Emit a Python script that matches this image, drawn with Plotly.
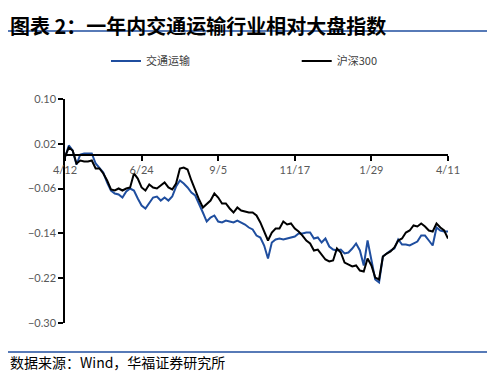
import plotly.graph_objects as go

tick_labels = ["4/12", "6/24", "9/5", "11/17", "1/29", "4/11"]
tick_index = [0, 20, 40, 60, 80, 100]

transport = [
    -0.0045, 0.0170, 0.0080, -0.0170, 0.0009, 0.0027, 0.0027, 0.0027, -0.0152, -0.0241,
    -0.0313, -0.0491, -0.0634, -0.0688, -0.0705, -0.0759, -0.0652, -0.0598, -0.0634, -0.0777,
    -0.0902, -0.0955, -0.0866, -0.0759, -0.0741, -0.0813, -0.0759, -0.0813, -0.0741, -0.0563,
    -0.0455, -0.0509, -0.0580, -0.0670, -0.0723, -0.0866, -0.1027, -0.1188, -0.1116, -0.1080,
    -0.1188, -0.1205, -0.1170, -0.1188, -0.1205, -0.1170, -0.1205, -0.1241, -0.1295, -0.1330,
    -0.1438, -0.1473, -0.1616, -0.1848, -0.1563, -0.1509, -0.1491, -0.1509, -0.1491, -0.1473,
    -0.1455, -0.1402, -0.1402, -0.1384, -0.1384, -0.1491, -0.1473, -0.1563, -0.1491, -0.1634,
    -0.1688, -0.1705, -0.1688, -0.1759, -0.1741, -0.1670, -0.1580, -0.1705, -0.1973, -0.1527,
    -0.1848, -0.2223, -0.2277, -0.1813, -0.1759, -0.1705, -0.1670, -0.1509, -0.1598, -0.1598,
    -0.1616, -0.1580, -0.1545, -0.1438, -0.1438, -0.1527, -0.1616, -0.1295, -0.1348, -0.1366,
    -0.1366,
]

hs300 = [
    -0.0027, 0.0134, 0.0080, -0.0152, -0.0098, -0.0116, -0.0116, -0.0098, -0.0241, -0.0241,
    -0.0330, -0.0455, -0.0616, -0.0634, -0.0598, -0.0634, -0.0598, -0.0580, -0.0330, -0.0420,
    -0.0580, -0.0634, -0.0527, -0.0580, -0.0598, -0.0545, -0.0491, -0.0580, -0.0616, -0.0509,
    -0.0241, -0.0223, -0.0259, -0.0455, -0.0634, -0.0795, -0.0938, -0.0884, -0.0813, -0.0688,
    -0.0759, -0.0866, -0.0866, -0.0955, -0.1027, -0.0938, -0.0991, -0.1009, -0.1027, -0.1027,
    -0.1080, -0.1205, -0.1384, -0.1527, -0.1384, -0.1313, -0.1313, -0.1188, -0.1241, -0.1223,
    -0.1313, -0.1366, -0.1438, -0.1527, -0.1580, -0.1705, -0.1688, -0.1777, -0.1866, -0.1902,
    -0.1884, -0.1670, -0.1741, -0.1920, -0.1955, -0.1991, -0.1973, -0.2063, -0.2080, -0.1848,
    -0.1973, -0.2188, -0.2223, -0.1813, -0.1759, -0.1723, -0.1652, -0.1527, -0.1491, -0.1384,
    -0.1348, -0.1259, -0.1277, -0.1223, -0.1277, -0.1348, -0.1366, -0.1223, -0.1295, -0.1348,
    -0.1491,
]

y_ticks = [0.10, 0.02, -0.06, -0.14, -0.22, -0.30]

BLUE = "#1f4e9f"
x_idx = list(range(len(transport)))

fig = go.Figure()
fig.add_trace(go.Scatter(x=x_idx, y=transport, mode="lines", name="交通运输",
                         line=dict(color=BLUE, width=2), legend="legend"))
fig.add_trace(go.Scatter(x=x_idx, y=hs300, mode="lines", name="沪深300",
                         line=dict(color="#000000", width=2), legend="legend2"))

tick_font = dict(family="Lato, DejaVu Sans, sans-serif", size=11, color="#595959")
leg_font = dict(family="Noto Sans CJK SC, sans-serif", size=11, color="#404040")

fig.update_layout(
    width=487, height=367,
    margin=dict(l=57, r=47, t=91, b=52, autoexpand=False),
    paper_bgcolor="white", plot_bgcolor="white",
    showlegend=True,
    legend=dict(x=0.107, y=1.17, xanchor="left", yanchor="middle",
                font=leg_font, bgcolor="rgba(0,0,0,0)"),
    legend2=dict(x=0.605, y=1.17, xanchor="left", yanchor="middle",
                 font=leg_font, bgcolor="rgba(0,0,0,0)"),
    xaxis=dict(range=[0, 100], tickvals=tick_index, ticktext=tick_labels,
               anchor="free", position=0.75, showgrid=False, zeroline=False,
               showline=True, linecolor="#000000", linewidth=1.5,
               ticks="outside", ticklen=5, tickcolor="#000000", tickwidth=1.5,
               tickfont=tick_font),
    yaxis=dict(range=[-0.30, 0.10], tickvals=y_ticks, tickformat=".2f",
               showgrid=False, zeroline=False, showline=True, linecolor="#000000",
               linewidth=1.5, ticks="outside", ticklen=5, tickcolor="#000000",
               tickwidth=1.5, tickfont=tick_font),
    annotations=[
        dict(text="<b>图表 2：一年内交通运输行业相对大盘指数</b>", xref="paper", yref="paper",
             x=-0.149, y=1.404, xanchor="left", yanchor="top", showarrow=False,
             font=dict(family="Noto Sans CJK SC, sans-serif", size=20, color="#000000")),
        dict(text="数据来源：Wind，华福证券研究所", xref="paper", yref="paper",
             x=-0.149, y=-0.174, xanchor="left", yanchor="middle", showarrow=False,
             font=dict(family="Noto Sans CJK SC, sans-serif", size=14, color="#000000")),
    ],
    shapes=[
        dict(type="line", xref="paper", yref="paper", x0=-0.149, x1=1.11, y0=1.3036, y1=1.3036,
             line=dict(color="#1f4e9f", width=1.5)),
        dict(type="line", xref="paper", yref="paper", x0=-0.149, x1=1.11, y0=-0.1295, y1=-0.1295,
             line=dict(color="#1f4e9f", width=1.5)),
    ],
)

fig.write_html("out.html")
